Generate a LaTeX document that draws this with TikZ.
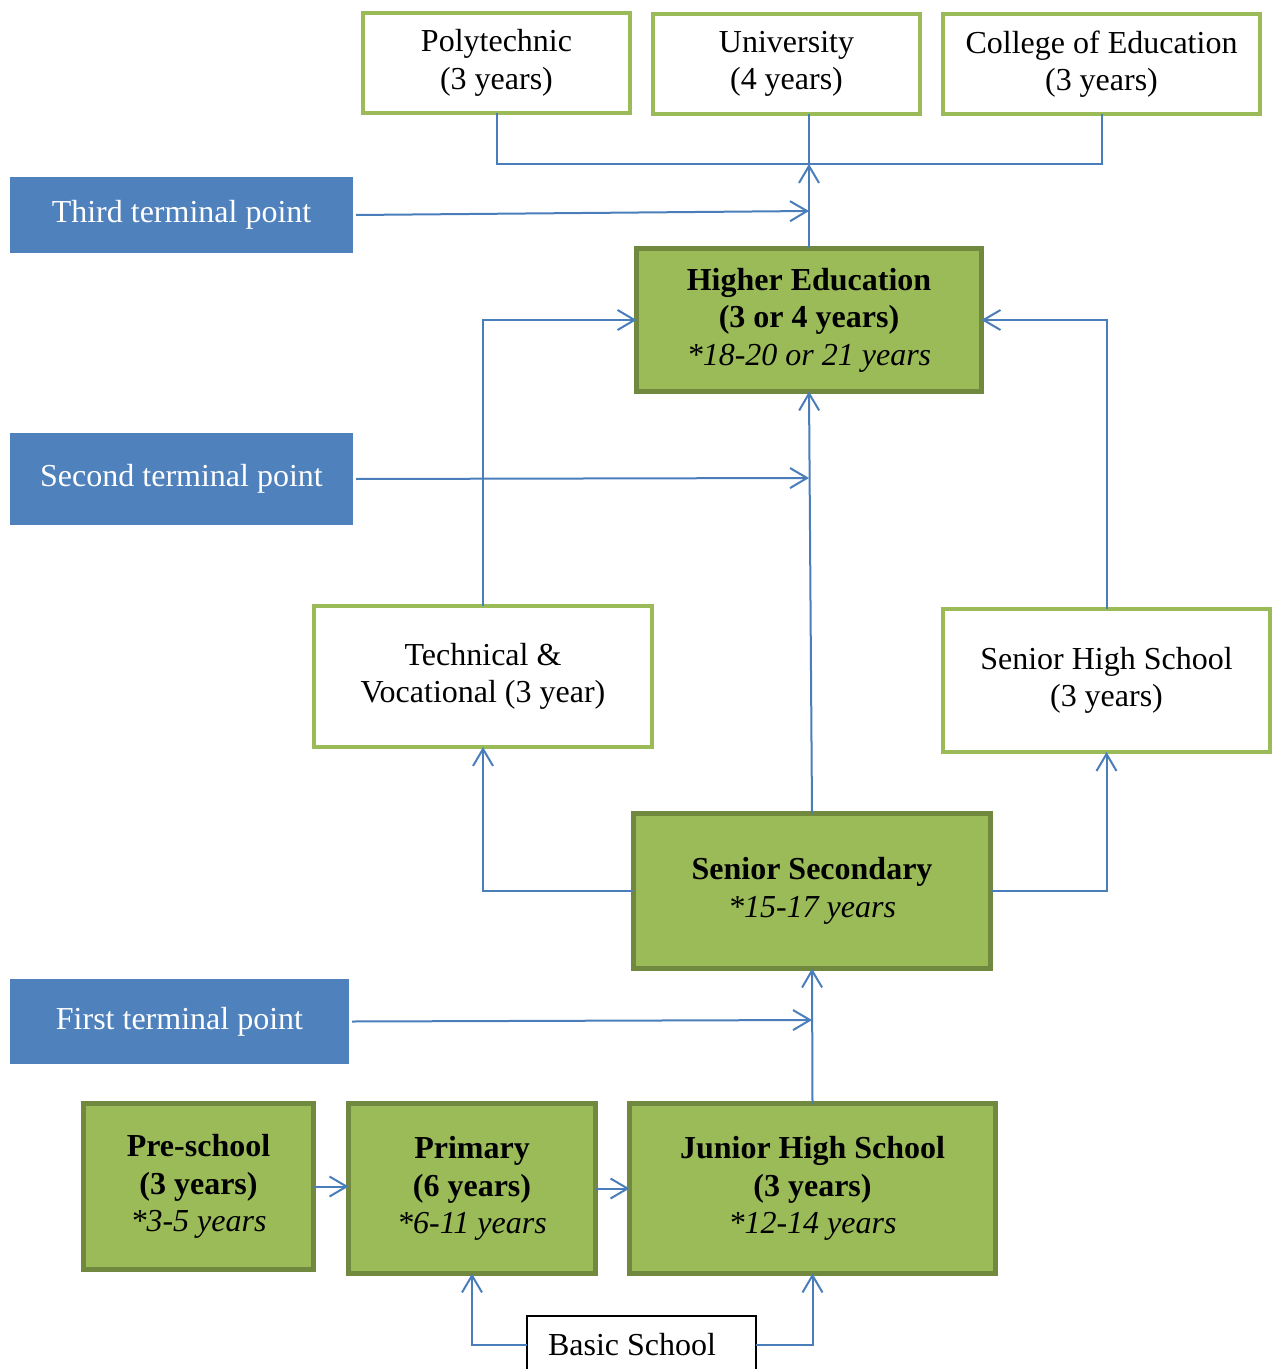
\documentclass[tikz,border=0pt]{standalone}
\usepackage{fontspec}
\setmainfont{Liberation Serif}
\usetikzlibrary{arrows.meta}
\definecolor{lgreen}{HTML}{9BBB59}
\definecolor{dgreen}{HTML}{71893F}
\definecolor{tblue}{HTML}{4F81BD}
\definecolor{cblue}{HTML}{4A7EBB}
\begin{document}
\begin{tikzpicture}[x=0.5pt,y=-0.5pt,
  every node/.style={inner sep=0pt,outer sep=0pt,align=center,font=\fontsize{16}{18.75}\selectfont},
  whitebox/.style={draw=lgreen,line width=2pt,fill=white},
  greenbox/.style={draw=dgreen,line width=2.5pt,fill=lgreen},
  termbox/.style={fill=tblue,text=white},
  basicbox/.style={draw=black,line width=1pt,fill=white,inner xsep=10.5pt,text width=93.5pt,align=flush left},
  conn/.style={draw=cblue,line width=1pt},
  arr/.style={conn,-{Straight Barb[length=8.5pt,width=10pt]}}]
\useasboundingbox (0,0) rectangle (1276,1369);
\clip (0,0) rectangle (1276,1369);
% top row
\node[whitebox,minimum width=133.5pt,minimum height=50pt] (poly) at (496.5,63) {Polytechnic\\(3 years)};
\node[whitebox,minimum width=133.5pt,minimum height=50pt] (univ) at (786.5,64) {University\\(4 years)};
\node[whitebox,minimum width=158.5pt,minimum height=50pt] (coll) at (1101.5,64) {College of Education\\(3 years)};
% terminal points
\node[termbox,minimum width=171.5pt,minimum height=38pt] (third) at (181.5,215) {Third terminal point};
\node[termbox,minimum width=171.5pt,minimum height=46pt] (second) at (181.5,479) {Second terminal point};
\node[termbox,minimum width=169.5pt,minimum height=42.5pt] (first) at (179.5,1021.5) {First terminal point};
% higher education
\node[greenbox,minimum width=172.5pt,minimum height=71.5pt] (he) at (809,320) {\textbf{Higher Education}\\\textbf{(3 or 4 years)}\\\textit{*18-20 or 21 years}};
% middle
\node[whitebox,minimum width=169pt,minimum height=70.5pt] (tech) at (483,676.5) {Technical \&\\Vocational (3 year)};
\node[whitebox,minimum width=163.5pt,minimum height=71.5pt] (shs) at (1106.5,680.5) {Senior High School\\(3 years)};
\node[greenbox,minimum width=178.5pt,minimum height=77.5pt] (ss) at (812,891) {\textbf{Senior Secondary}\\\textit{*15-17 years}};
% basic
\node[greenbox,minimum width=115pt,minimum height=83pt] (pre) at (198.5,1186.5) {\textbf{Pre-school}\\\textbf{(3 years)}\\\textit{*3-5 years}};
\node[greenbox,minimum width=123.5pt,minimum height=85pt] (prim) at (472,1188.5) {\textbf{Primary}\\\textbf{(6 years)}\\\textit{*6-11 years}};
\node[greenbox,minimum width=183pt,minimum height=85pt] (jhs) at (812.5,1188.5) {\textbf{Junior High School}\\\textbf{(3 years)}\\\textit{*12-14 years}};
\node[basicbox,minimum height=29pt] (basic) at (641.5,1345) {Basic School};
% coordinates
\coordinate (bar) at (809,164);
\coordinate (t3) at (809,211);
\coordinate (t2) at (809,478);
\coordinate (t1) at (812,1020);
% connectors
\draw[conn] (poly.south) |- (bar);
\draw[conn] (coll.south) |- (bar);
\draw[conn] (bar |- univ.south) -- (bar);
\draw[arr] (he.north) -- (bar);
\draw[arr] ([xshift=1.5pt]third.east) -- (t3);
\draw[arr] ([xshift=1.5pt]second.east) -- (t2);
\draw[arr] ([xshift=1.5pt]first.east) -- (t1);
\draw[arr] (ss.north) -- (he.south);
\draw[arr] (tech.north) |- (he.west);
\draw[arr] (shs.north) |- (he.east);
\draw[arr] (ss.west) -| (tech.south);
\draw[arr] (ss.east) -| (shs.south);
\draw[arr] (jhs.north) -- (ss.south);
\draw[arr] (pre.east) -- (pre.east -| prim.west);
\draw[arr] (prim.east) -- (jhs.west);
\draw[arr] (basic.west) -| (prim.south);
\draw[arr] (basic.east) -| (jhs.south);
\end{tikzpicture}
\end{document}
